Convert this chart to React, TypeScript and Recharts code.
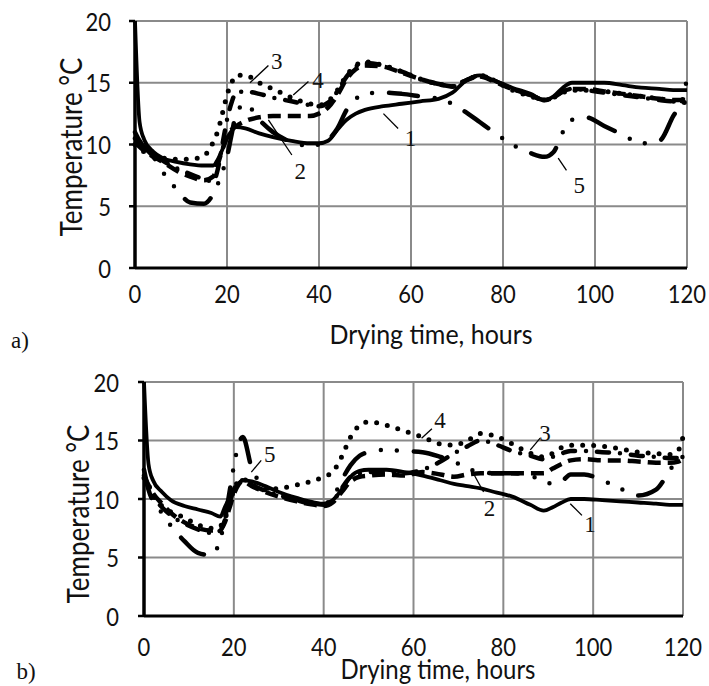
import React from 'react';
import { LineChart, Line, XAxis, YAxis, CartesianGrid, ReferenceLine, ReferenceDot, Label } from 'recharts';

// drying time (hours) shared by every curve
const hours = [0, 1, 2, 4, 6, 9, 12, 15, 17, 18, 19, 20, 21, 22, 24, 27, 30, 34, 38, 40, 42, 44, 46, 48, 50, 54, 58, 62, 66, 69, 72, 75, 78, 82, 86, 89, 91, 93, 95, 98, 102, 106, 110, 114, 117, 119, 120];
const tempTicks = [0, 5, 10, 15, 20];
const hourTicks = [0, 20, 40, 60, 80, 100, 120];

// panel a) temperatures, °C
const a1 = [20, 11.8, 10.4, 9.4, 8.9, 8.6, 8.4, 8.3, 8.3, 8.8, 9.6, 10.5, 11.1, 11.4, 11.3, 10.9, 10.6, 10.3, 10.1, 10.1, 10.3, 11.2, 12.0, 12.5, 12.8, 13.1, 13.3, 13.5, 13.7, 14.2, 15.2, 15.6, 15.2, 14.6, 14.1, 13.6, 13.9, 14.6, 15.0, 15.0, 15.0, 14.8, 14.6, 14.5, 14.4, 14.4, 14.4];
const a2 = [10.2, 9.8, 9.5, 9.0, 8.6, 7.9, 7.4, 7.1, 7.4, 8.4, 9.6, 10.6, 11.2, 11.5, 11.9, 12.2, 12.3, 12.3, 12.3, 12.5, 13.0, 14.0, 15.3, 16.1, 16.4, 16.3, 15.8, 15.3, 14.9, 14.7, 15.2, 15.5, 15.1, 14.5, 14.0, 13.6, 13.8, 14.3, 14.5, 14.5, 14.3, 14.1, 13.9, 13.7, 13.6, 13.6, 13.6];
const a3 = [10.0, 9.7, 9.4, 9.1, 8.9, 8.8, 8.8, 9.1, 10.2, 11.1, 12.5, 14.0, 15.0, 15.6, 15.6, 15.0, 14.5, 13.8, 13.3, 13.2, 13.5, 14.4, 15.6, 16.4, 16.7, 16.4, 15.9, 15.3, 14.9, 14.7, 15.2, 15.6, 15.2, 14.4, 13.9, 13.6, 13.8, 14.2, 14.4, 14.4, 14.3, 14.1, 13.9, 13.7, 13.5, 13.4, 13.4];
const a4 = [11.0, 10.3, 9.8, 9.2, 8.7, 8.1, 7.6, 7.2, 7.0, 8.0, 10.0, 12.0, 13.4, 14.2, 14.3, 14.1, 13.8, 13.5, 13.2, 13.1, 13.4, 14.3, 15.5, 16.3, 16.6, 16.4, 15.9, 15.3, 14.9, 14.7, 15.2, 15.6, 15.2, 14.5, 14.0, 13.6, 13.8, 14.3, 14.5, 14.4, 14.2, 14.0, 13.8, 13.6, 13.5, 13.5, 13.5];
const a5 = [10.5, 10.2, 9.8, 9.0, 7.8, 6.4, 5.3, 5.2, 6.0, 6.8, 7.8, 9.0, 10.8, 12.5, 13.3, 12.0, 11.0, 10.2, 9.9, 10.0, 10.4, 11.3, 12.8, 13.7, 14.1, 14.2, 14.1, 13.9, 13.7, 13.3, 12.6, 11.8, 11.0, 10.0, 9.3, 9.0, 9.4, 11.0, 12.0, 12.2, 11.5, 10.8, 10.1, 10.3, 12.3, 13.6, 15.4];

// panel b) temperatures, °C
const b1 = [20, 13.0, 11.6, 10.6, 9.9, 9.4, 9.1, 8.8, 8.5, 9.3, 10.1, 10.8, 11.3, 11.6, 11.5, 11.1, 10.6, 10.1, 9.7, 9.6, 9.9, 10.8, 11.9, 12.4, 12.5, 12.5, 12.3, 12.0, 11.6, 11.3, 11.1, 10.9, 10.6, 10.2, 9.5, 9.0, 9.3, 9.7, 10.0, 10.0, 9.9, 9.8, 9.7, 9.6, 9.5, 9.5, 9.5];
const b2 = [12.0, 11.2, 10.5, 9.6, 8.8, 8.0, 7.5, 7.3, 7.4, 8.0, 9.2, 10.4, 11.2, 11.5, 11.1, 10.6, 10.2, 9.8, 9.5, 9.4, 9.7, 10.6, 11.5, 11.9, 12.0, 12.1, 12.0, 12.3, 12.1, 11.9, 12.1, 12.2, 12.2, 12.2, 12.2, 12.2, 12.6, 13.0, 13.3, 13.4, 13.3, 13.3, 13.2, 13.1, 13.1, 13.2, 13.4];
const b3 = [12.0, 11.0, 10.2, 9.3, 8.6, 7.9, 7.4, 7.1, 7.3, 8.2, 9.6, 10.8, 11.4, 11.6, 11.2, 10.7, 10.3, 9.9, 9.6, 9.5, 9.8, 10.9, 11.9, 12.2, 12.3, 12.3, 12.2, 12.5, 13.2, 13.9, 14.5, 15.0, 14.7, 14.1, 13.7, 13.4, 13.6, 13.9, 14.1, 14.1, 14.0, 13.9, 13.7, 13.6, 13.5, 13.5, 13.4];
const b4 = [11.8, 11.2, 10.3, 9.4, 8.9, 8.4, 7.8, 7.5, 7.7, 8.3, 9.5, 10.8, 11.5, 11.7, 11.2, 10.8, 10.9, 11.2, 11.6, 11.9, 12.3, 13.6, 15.3, 16.3, 16.6, 16.3, 15.8, 15.3, 14.7, 14.6, 15.0, 15.6, 15.4, 14.7, 13.9, 13.6, 13.9, 14.4, 14.6, 14.6, 14.5, 14.3, 14.0, 13.9, 13.8, 14.2, 15.3];
const b5 = [12.5, 10.8, 9.8, 8.8, 7.7, 6.4, 5.4, 5.2, 6.6, 8.2, 10.5, 12.8, 14.6, 15.3, 12.6, 11.1, 10.4, 9.9, 9.6, 9.6, 10.1, 11.6, 12.9, 13.7, 14.0, 14.2, 14.1, 14.0, 13.6, 13.2, 12.6, 12.3, 12.2, 12.2, 12.0, 11.5, 11.3, 11.5, 12.1, 12.1, 11.6, 10.9, 10.3, 10.8, 12.4, 13.5, 13.6];

// curve numbers with their leader lines (data coordinates)
const notesA = [
  { text: '3', at: [30.8, 16.7], from: [25.0, 15.0], to: [29.0, 16.4] },
  { text: '4', at: [39.8, 15.2], from: [34.4, 14.0], to: [37.7, 15.1] },
  { text: '2', at: [35.9, 7.8], from: [29.0, 12.0], to: [34.1, 9.15] },
  { text: '1', at: [59.9, 10.5], from: [54.0, 12.5], to: [57.2, 11.3] },
  { text: '5', at: [96.6, 6.7], from: [92.0, 8.9], to: [93.8, 7.9] },
];
const notesB = [
  { text: '4', at: [65.9, 16.7], from: [61.8, 15.2], to: [64.1, 16.0] },
  { text: '2', at: [76.9, 9.2], from: [73.3, 12.2], to: [75.6, 10.6] },
  { text: '3', at: [89.3, 15.6], from: [86.0, 14.2], to: [88.2, 15.2] },
  { text: '1', at: [99.3, 7.8], from: [94.9, 9.6], to: [97.5, 8.6] },
  { text: '5', at: [28.0, 13.8], from: [23.9, 12.3], to: [26.1, 13.3] },
];

const SANS = 'Lato, "Liberation Sans", sans-serif';
const SERIF = '"Liberation Serif", "Times New Roman", serif';

const STYLES: Record<string, any> = {
  solid: { strokeWidth: 3.8 },
  dashed: { strokeWidth: 4.5, strokeDasharray: '13 7' },
  dotted: { strokeWidth: 5, strokeDasharray: '0 11', strokeLinecap: 'round' },
  dashDot: { strokeWidth: 4.5, strokeDasharray: '12 11 0 11', strokeLinecap: 'round' },
  dashDotDot: { strokeWidth: 4.5, strokeDasharray: '29 17 0 16 0 17', strokeLinecap: 'round' },
};

const seriesA = [
  { key: 's1', values: a1, style: 'solid' },
  { key: 's2', values: a2, style: 'dashed' },
  { key: 's3', values: a3, style: 'dotted' },
  { key: 's4', values: a4, style: 'dashDot' },
  { key: 's5', values: a5, style: 'dashDotDot' },
];
const seriesB = [
  { key: 's1', values: b1, style: 'solid' },
  { key: 's2', values: b2, style: 'dashed' },
  { key: 's3', values: b3, style: 'dashDot' },
  { key: 's4', values: b4, style: 'dotted' },
  { key: 's5', values: b5, style: 'dashDotDot' },
];

const XTick = (props: any) => (
  <g transform={`translate(${props.x},${props.y}) scale(1,1.15)`}>
    <text textAnchor="middle" dominantBaseline="central" fontFamily={SANS} fontSize={22} fill="#111">
      {props.payload.value}
    </text>
  </g>
);

const YTick = (props: any) => (
  <g transform={`translate(${props.x},${props.y}) scale(1,1.15)`}>
    <text textAnchor="end" dominantBaseline="central" fontFamily={SANS} fontSize={22} fill="#111">
      {props.payload.value}
    </text>
  </g>
);

function Panel({ series, notes, layout }: any) {
  const rows = hours.map((h, i) => {
    const row: any = { h };
    series.forEach((s: any) => (row[s.key] = s.values[i]));
    return row;
  });

  return (
    <div style={{ position: 'absolute', left: 0, top: layout.top }}>
      <LineChart width={709} height={layout.height} data={rows} margin={layout.margin}>
        <CartesianGrid stroke="#8a8a8a" strokeWidth={2} />
        <XAxis
          dataKey="h"
          type="number"
          domain={[0, 120]}
          ticks={hourTicks}
          height={layout.xAxisHeight}
          tickLine={false}
          tickSize={0}
          tickMargin={layout.xTickMargin}
          axisLine={{ stroke: '#000', strokeWidth: 3 }}
          tick={XTick}
        >
          <Label
            content={() => (
              <g>
                <g transform={`translate(${layout.xTitle[0]},${layout.xTitle[1]}) scale(1,1.1)`}>
                  <text textAnchor="middle" dominantBaseline="central" fontFamily={SANS} fontSize={layout.titleSize} fill="#111">
                    Drying time, hours
                  </text>
                </g>
                <text x={layout.letter[0]} y={layout.letter[1]} textAnchor="middle" dominantBaseline="central" fontFamily={SERIF} fontSize={23} fill="#111">
                  {layout.letterText}
                </text>
              </g>
            )}
          />
        </XAxis>
        <YAxis
          type="number"
          domain={[0, 20]}
          ticks={tempTicks}
          width={layout.yAxisWidth}
          tickSize={6}
          tickMargin={layout.yTickMargin}
          tickLine={{ stroke: '#000', strokeWidth: 2.5 }}
          axisLine={{ stroke: '#000', strokeWidth: 3.5 }}
          tick={YTick}
        >
          <Label
            content={() => (
              <g transform={`translate(${layout.yTitle[0]},${layout.yTitle[1]}) rotate(-90) scale(1,1.15)`}>
                <text textAnchor="middle" dominantBaseline="central" fontFamily={SANS} fontSize={26} fill="#111">
                  Temperature °C
                </text>
              </g>
            )}
          />
        </YAxis>
        {series.map((s: any) => (
          <Line
            key={s.key}
            type="monotone"
            dataKey={s.key}
            stroke="#000"
            fill="none"
            dot={false}
            activeDot={false}
            isAnimationActive={false}
            {...STYLES[s.style]}
          />
        ))}
        {notes.map((n: any, i: number) => (
          <ReferenceLine
            key={`l${i}`}
            segment={[
              { x: n.from[0], y: n.from[1] },
              { x: n.to[0], y: n.to[1] },
            ]}
            stroke="#000"
            strokeWidth={1.3}
          />
        ))}
        {notes.map((n: any, i: number) => (
          <ReferenceDot
            key={`t${i}`}
            x={n.at[0]}
            y={n.at[1]}
            r={0}
            shape={(p: any) => (
              <text x={p.cx} y={p.cy} textAnchor="middle" dominantBaseline="central" fontFamily={SERIF} fontSize={23} fill="#111">
                {n.text}
              </text>
            )}
          />
        ))}
      </LineChart>
    </div>
  );
}

const layoutA = {
  top: 0,
  height: 360,
  margin: { top: 21, right: 22, left: 0, bottom: 0 },
  yAxisWidth: 135,
  xAxisHeight: 92,
  xTickMargin: 25,
  yTickMargin: 18,
  xTitle: [431, 334],
  titleSize: 25,
  yTitle: [70, 147],
  letter: [20, 340],
  letterText: 'a)',
};

const layoutB = {
  top: 360,
  height: 326,
  margin: { top: 22, right: 26, left: 0, bottom: 0 },
  yAxisWidth: 144,
  xAxisHeight: 70,
  xTickMargin: 30,
  yTickMargin: 19,
  xTitle: [438, 309],
  titleSize: 24,
  yTitle: [77, 154],
  letter: [26, 311],
  letterText: 'b)',
};

export default function App() {
  return (
    <div style={{ position: 'absolute', left: 0, top: 0, width: 709, height: 686, background: '#fff' }}>
      <Panel series={seriesA} notes={notesA} layout={layoutA} />
      <Panel series={seriesB} notes={notesB} layout={layoutB} />
    </div>
  );
}
